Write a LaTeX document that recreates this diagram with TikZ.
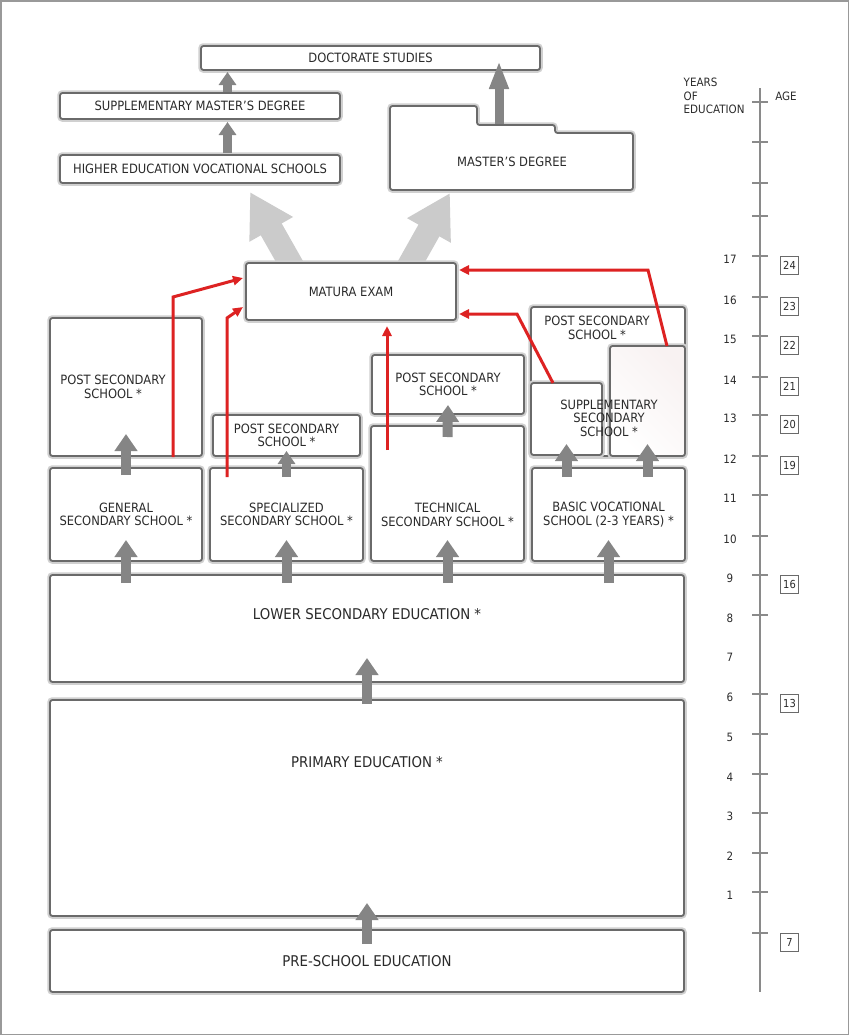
\documentclass[tikz,border=0pt]{standalone}
\usepackage{fontspec}
\setmainfont{DejaVu Sans}[FakeStretch=0.9]
\usetikzlibrary{arrows.meta,calc}
\definecolor{boxgray}{HTML}{6A6A6A}
\definecolor{glowgray}{HTML}{D0D0D0}
\definecolor{arrowgray}{HTML}{858585}
\definecolor{lightarrow}{HTML}{CBCBCB}
\definecolor{redc}{HTML}{DD2222}
\definecolor{txtgray}{HTML}{2A2A2A}
\definecolor{axisgray}{HTML}{8A8A8A}
\definecolor{pinkish}{HTML}{F8F2F2}
\newcommand{\smallfnt}{\fontsize{12.8}{13.5}\selectfont}
\newcommand{\bigfnt}{\fontsize{14.8}{17}\selectfont}
\newcommand{\axfnt}{\fontsize{11.5}{13.5}\selectfont}
\newcommand{\agefnt}{\fontsize{11}{12}\selectfont}
\begin{document}
\begin{tikzpicture}[x=1pt,y=-1pt,
  eduBox/.style={draw=boxgray, line width=1.8pt, rounded corners=2.5pt, fill=white,
    preaction={draw=glowgray, line width=5.5pt}, inner sep=0pt, outer sep=0pt,
    anchor=north west, align=center, font=\smallfnt, text=txtgray},
  polyBox/.style={draw=boxgray, line width=1.8pt, rounded corners=2.5pt, fill=white,
    preaction={draw=glowgray, line width=5.5pt}},
  txt/.style={align=center, font=\smallfnt, text=txtgray, inner sep=0pt},
  bigtxt/.style={align=center, font=\bigfnt, text=txtgray, inner sep=0pt},
  garrow/.style={draw=arrowgray, line width=10pt, -{Triangle[width=22pt,length=17pt]}},
  gsmall/.style={draw=arrowgray, line width=9pt, -{Triangle[width=17pt,length=13pt]}},
  gtall/.style={draw=arrowgray, line width=9pt, -{Triangle[width=18pt,length=28pt]}},
  larrow/.style={draw=lightarrow, line width=24pt, -{Triangle[width=47pt,length=43pt]}},
  rarrow/.style={draw=redc, line width=3pt, -{Triangle[width=9pt,length=10pt]}},
  axisline/.style={draw=axisgray, line width=1.5pt},
  ticknum/.style={font=\axfnt, text=txtgray, inner sep=0pt},
  agebox/.style={draw=boxgray, line width=1pt, minimum width=18pt, minimum height=18pt,
    inner sep=0pt, font=\agefnt, text=txtgray, anchor=north west}
]
\useasboundingbox (0,0) rectangle (850,1036);
\draw[draw=gray!80, line width=1.5pt] (1,1) rectangle (848.5,1034.5);

% ---------- tertiary level ----------
\node[eduBox, minimum width=280pt, minimum height=28pt] (hevs) at (60,155) {HIGHER EDUCATION VOCATIONAL SCHOOLS};
\node[eduBox, minimum width=280pt, minimum height=26pt] (smd) at (60,93) {SUPPLEMENTARY MASTER’S DEGREE};
\node[eduBox, minimum width=339pt, minimum height=24pt] (doc) at (201,46) {DOCTORATE STUDIES};

% master's degree (stepped shape)
\draw[polyBox] (390,106) -- (477,106) -- (477,125) -- (555,125) -- (555,133) -- (633,133)
   -- (633,190) -- (390,190) -- cycle;
\coordinate (mnotch) at (499,124);
\coordinate (mbl) at (390,190);
\node[txt] (masters) at (512,162) {MASTER’S DEGREE};

% light gray arrows from matura (drawn under the box)
\coordinate (matN) at (351,263);
\draw[larrow] ($(matN)+(-55,10)$) -- ($(hevs.south)+(50,9)$);
\draw[larrow] ($(matN)+(54,10)$) -- ($(mbl)+(60,3)$);
\node[eduBox, minimum width=210pt, minimum height=57pt] (matura) at (246,263) {MATURA EXAM};

% upper gray arrows
\draw[gsmall] ($(hevs.north)+(27.5,-2)$) -- ($(smd.south)+(27.5,3)$);
\draw[gsmall] ($(smd.north)+(27.5,-1)$) -- ($(doc.south west)+(26.5,2)$);
\draw[gtall] (mnotch) -- ($(doc.south -| mnotch)+(0,-9)$);

% ---------- secondary level ----------
\node[eduBox, minimum width=152pt, minimum height=138pt] (ps1) at (50,318) {};
\node[txt] (ps1t) at (113,387) {POST SECONDARY\\SCHOOL *};
\node[eduBox, minimum width=152pt, minimum height=93pt] (gs) at (50,468) {GENERAL\\SECONDARY SCHOOL *};

\node[eduBox, minimum width=147pt, minimum height=41pt] (ps2) at (213,415) {POST SECONDARY\\SCHOOL *};
\node[eduBox, minimum width=153pt, minimum height=93pt] (ss) at (210,468) {SPECIALIZED\\SECONDARY SCHOOL *};

\node[eduBox, minimum width=152pt, minimum height=59pt] (ps3) at (372,355) {POST SECONDARY\\SCHOOL *};
\node[eduBox, minimum width=153pt, minimum height=135pt] (ts) at (371,426) {};
\node[txt] (tst) at (447.5,515) {TECHNICAL\\SECONDARY SCHOOL *};

\node[eduBox, minimum width=154pt, minimum height=149pt] (ps4) at (531,307) {};
\node[txt] (ps4t) at (597,328) {POST SECONDARY\\SCHOOL *};
\node[eduBox, minimum width=71pt, minimum height=72pt] (supL) at (531,383) {};
\node[eduBox, minimum width=75pt, minimum height=110pt, left color=white, right color=pinkish, shading angle=135] (supR) at (610,346) {};
\node[txt] (supt) at (609,418) {SUPPLEMENTARY\\SECONDARY\\SCHOOL *};
\node[eduBox, minimum width=153pt, minimum height=93pt] (bv) at (532,468) {BASIC VOCATIONAL\\SCHOOL (2-3 YEARS) *};

% ---------- lower levels ----------
\node[eduBox, minimum width=634pt, minimum height=107pt] (ls) at (50,575) {};
\node[bigtxt] (lst) at (367,614) {LOWER SECONDARY EDUCATION *};
\node[eduBox, minimum width=634pt, minimum height=216pt] (pe) at (50,700) {};
\node[bigtxt] (pet) at (367,762) {PRIMARY EDUCATION *};
\node[eduBox, minimum width=634pt, minimum height=62pt, font=\bigfnt] (ps0) at (50,930) {PRE-SCHOOL EDUCATION};

% gray progression arrows
\draw[garrow] ($(ps0.north)+(0,14)$) -- ($(pe.south)+(0,-13)$);
\draw[garrow] ($(pe.north)+(0,4)$) -- ($(ls.south)+(0,-24)$);
\draw[garrow] ($(ls.north -| gs.north)+(0,8)$) -- ($(gs.south)+(0,-21)$);
\draw[garrow] ($(ls.north -| ss.north)+(0,8)$) -- ($(ss.south)+(0,-21)$);
\draw[garrow] ($(ls.north -| ts.north)+(0,8)$) -- ($(ts.south)+(0,-21)$);
\draw[garrow] ($(ls.north -| bv.north)+(0,8)$) -- ($(bv.south)+(0,-21)$);
\draw[garrow] ($(gs.north)+(0,7)$) -- ($(ps1.south)+(0,-22)$);
\draw[gsmall] ($(ss.north)+(0,9)$) -- ($(ps2.south)+(0,-5)$);
\draw[garrow] ($(ts.north)+(0,11)$) -- ($(ps3.south)+(0,-9)$);
\draw[garrow] ($(bv.north -| supL.north)+(0,9)$) -- ($(supL.south)+(0,-11)$);
\draw[garrow] ($(bv.north -| supR.north)+(0,9)$) -- ($(supR.south)+(0,-12)$);

% red routes to matura
\draw[rarrow] ($(ps1.south)+(47,1)$) -- ($(ps1.north)+(47,-21)$) -- ($(matura.west)+(-3,-13.5)$);
\draw[rarrow] ($(ss.north west)+(17,9)$) -- ($(ss.north west)+(17,-150)$) -- ($(matura.west)+(-3,15.5)$);
\draw[rarrow] ($(ts.north west)+(16,24)$) -- ($(matura.south)+(36,6)$);
\draw[rarrow] ($(supL.north west)+(22,0)$) -- ($(matura.east)+(61,22.5)$) -- ($(matura.east)+(3,22.5)$);
\draw[rarrow] ($(supR.north west)+(57,0)$) -- ($(matura.east)+(192,-21.5)$) -- ($(matura.east)+(3,-21.5)$);

% ---------- axis ----------
\node[align=left, anchor=north west, font=\axfnt, text=txtgray, inner sep=0pt] (yoe) at (683.5,78) {YEARS\\OF\\EDUCATION};
\node[font=\axfnt, text=txtgray, inner sep=0pt] (agehead) at (786,96) {AGE};
\coordinate (axtop) at (760,88);
\coordinate (axbot) at (760,992);
\draw[axisline] (axtop) -- (axbot);
\foreach \yy in {102,142,183,216}{
  \draw[axisline] (752,\yy) -- (768,\yy);
}
\foreach \yy/\lab in {256/17,297/16,336/15,377/14,415/13,456/12,495/11,536/10,575/9,615/8,694/6,734/5,774/4,813/3,853/2,892/1}{
  \draw[axisline] (752,\yy) -- (768,\yy);
  \node[ticknum] at (730,\yy+3) {\lab};
}
\node[ticknum] (seven) at (730,657) {7};
\draw[axisline] (752,933) -- (768,933);
\foreach \yy/\lab in {256/24,297/23,336/22,377/21,415/20,456/19,575/16,694/13,933/7}{
  \node[agebox] (age\lab) at (780,\yy) {\lab};
}
\end{tikzpicture}
\end{document}
